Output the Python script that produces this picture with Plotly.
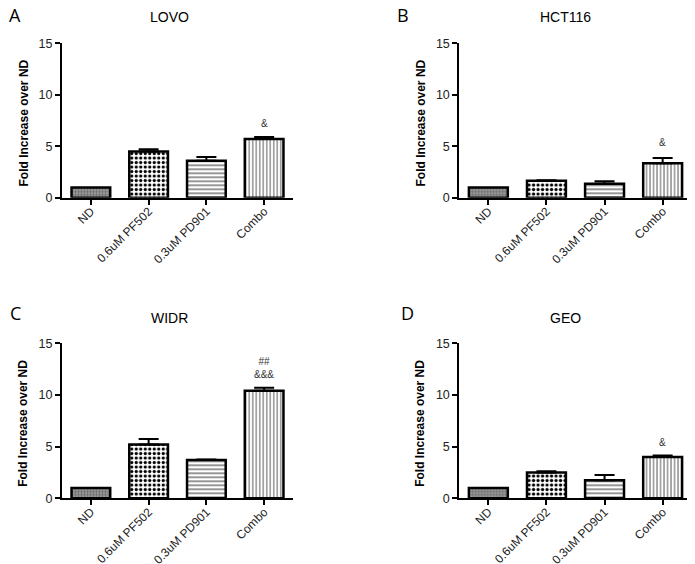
import plotly.graph_objects as go

categories = ["ND", "0.6uM PF502", "0.3uM PD901", "Combo"]
panels = ["A", "B", "C", "D"]
cell_lines = ["LOVO", "HCT116", "WIDR", "GEO"]
means = {
    "LOVO": [1.0, 4.5, 3.6, 5.7],
    "HCT116": [1.0, 1.65, 1.35, 3.35],
    "WIDR": [1.0, 5.2, 3.7, 10.4],
    "GEO": [1.0, 2.5, 1.75, 4.0],
}
errors = {
    "LOVO": [0.0, 0.2, 0.35, 0.2],
    "HCT116": [0.0, 0.05, 0.25, 0.5],
    "WIDR": [0.0, 0.55, 0.05, 0.3],
    "GEO": [0.0, 0.12, 0.5, 0.13],
}
sig_labels = {
    "LOVO": ("&", 7.2),
    "HCT116": ("&", 5.4),
    "WIDR": ("##<br>&&&", 12.6),
    "GEO": ("&", 5.4),
}
y_ticks = [0, 5, 10, 15]
y_title = "Fold Increase over ND"

# page body has an 8px margin: figure origin sits at (8, 8) of the window
OFF = 8
W, H = 695 - OFF, 564 - OFF
# pixel layout of each panel in window coords: (x_left, x_right, y_top, y_bottom)
boxes = [
    (62, 293, 43.3, 197.7),
    (459.3, 691.7, 43.3, 197.7),
    (62, 293, 343.3, 498.3),
    (459.3, 691.7, 343.3, 498.3),
]
letter_pos = [(15, 15), (403, 15), (15, 313), (408, 313)]   # centre of letter (window px)
title_pos = [(169, 17), (565.7, 17), (169, 318), (565.7, 318)]
ytitle_x = [22, 419, 22, 419]


def px(x):
    return (x - OFF) / W


def py(y):
    return 1 - (y - OFF) / H


pat_shape = [".", ".", "-", "|"]
pat_bg = ["#a8a8a8", "white", "white", "white"]
pat_fg = ["#6a6a6a", "black", "#8a8a8a", "#8a8a8a"]
pat_size = [3, 4.5, 4, 3.5]
pat_sol = [0.5, 0.42, 0.45, 0.4]

font_family = "Liberation Sans, Arial, sans-serif"
fig = go.Figure()
annotations = []
for i, (line, letter) in enumerate(zip(cell_lines, panels)):
    xs = "" if i == 0 else str(i + 1)
    x0, x1, yt, yb = boxes[i]
    for j, cat in enumerate(categories):
        fig.add_trace(go.Bar(
            x=[cat], y=[means[line][j]], width=0.67,
            xaxis="x" + xs, yaxis="y" + xs, showlegend=False,
            marker=dict(
                color=pat_bg[j],
                line=dict(color="black", width=2.5),
                pattern=dict(shape=pat_shape[j], bgcolor=pat_bg[j], fgcolor=pat_fg[j],
                             size=pat_size[j], solidity=pat_sol[j], fillmode="replace"),
            ),
            error_y=dict(type="data", array=[errors[line][j]], arrayminus=[0],
                         symmetric=False, color="black", thickness=2, width=10,
                         visible=errors[line][j] > 0),
        ))
    fig.layout["xaxis" + xs] = dict(
        domain=[px(x0), px(x1)], anchor="y" + xs, type="category",
        categoryorder="array", categoryarray=categories,
        range=[-0.5, 3.5], showline=True, linecolor="black", linewidth=2,
        ticks="outside", ticklen=5, tickwidth=2, tickcolor="black",
        tickangle=-45, tickfont=dict(size=12, color="#222", family=font_family),
        ticklabelstandoff=-5,
        showgrid=False, zeroline=False, automargin=False,
    )
    fig.layout["yaxis" + xs] = dict(
        domain=[py(yb), py(yt)], anchor="x" + xs, range=[0, 15],
        tickvals=y_ticks, showline=True, linecolor="black", linewidth=2,
        ticks="outside", ticklen=5, tickwidth=2, tickcolor="black",
        tickfont=dict(size=12.5, color="#222", family=font_family),
        showgrid=False, zeroline=False, automargin=False,
    )
    lx, ly = letter_pos[i]
    annotations.append(dict(text=letter, x=px(lx), y=py(ly), xref="paper", yref="paper",
                            showarrow=False, xanchor="center", yanchor="middle",
                            font=dict(size=18, color="black", family="Open Sans, sans-serif")))
    tx, ty = title_pos[i]
    annotations.append(dict(text=line, x=px(tx), y=py(ty), xref="paper", yref="paper",
                            showarrow=False, xanchor="center", yanchor="middle",
                            font=dict(size=14, color="black", family=font_family)))
    annotations.append(dict(text="<b>" + y_title + "</b>", x=px(ytitle_x[i] + 1),
                            y=py((yt + yb) / 2 + 3), xref="paper", yref="paper",
                            showarrow=False, textangle=-90, xanchor="center", yanchor="middle",
                            font=dict(size=12, color="black", family=font_family)))
    s_text, s_y = sig_labels[line]
    annotations.append(dict(text=s_text, x="Combo", y=s_y, xref="x" + xs, yref="y" + xs,
                            showarrow=False, xanchor="center", yanchor="middle",
                            font=dict(size=10, color="#333", family=font_family)))

fig.update_layout(
    template="none",
    width=W, height=H, margin=dict(l=0, r=0, t=0, b=0),
    paper_bgcolor="white", plot_bgcolor="white", barmode="overlay",
    annotations=annotations, font=dict(family=font_family),
)
fig.write_html("out.html")
